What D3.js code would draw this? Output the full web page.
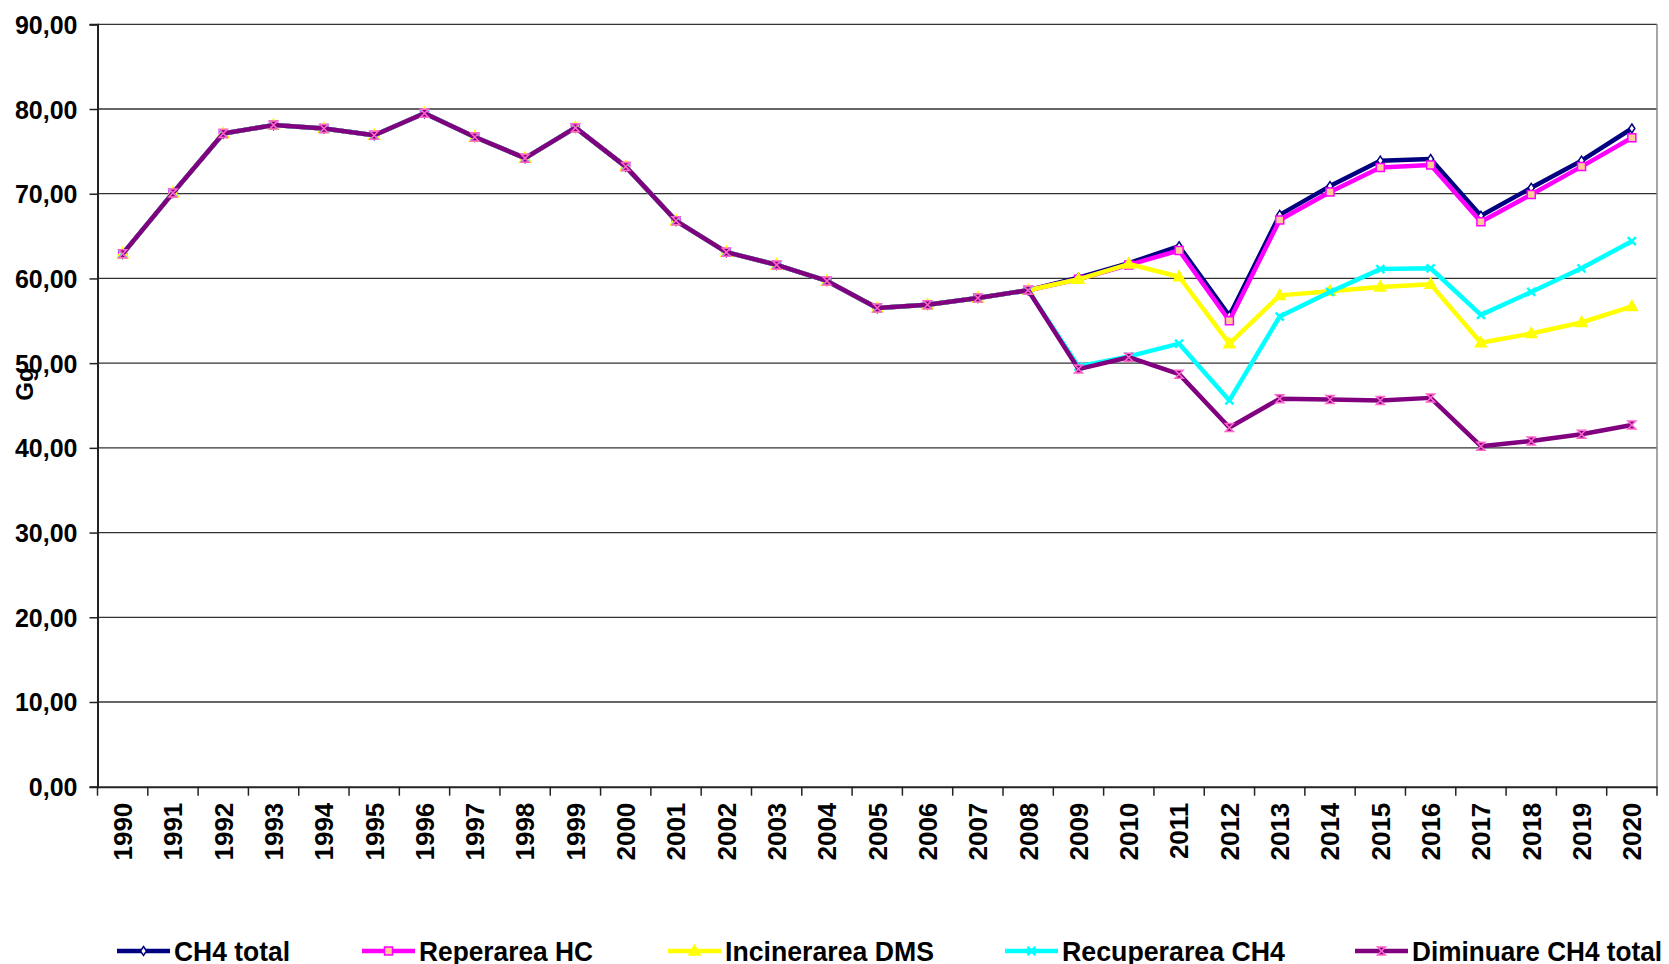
<!DOCTYPE html>
<html>
<head>
<meta charset="utf-8">
<script src="https://cdn.jsdelivr.net/npm/d3@7"></script>
<style>
  body { margin: 0; background: #fff; }
  text { font-family: Arial, "Liberation Sans", sans-serif; font-weight: bold; fill: #000; }
</style>
</head>
<body>
<div id="chart"></div>
<script>
// data
var years = d3.range(1990, 2021).map(String);
var common = [62.9, 70.1, 77.1, 78.1, 77.7, 76.9, 79.5, 76.7, 74.2, 77.8, 73.2, 66.8, 63.1, 61.6, 59.7, 56.5, 56.9, 57.7, 58.6];
var ch4Total    = common.concat([60.1, 61.8, 63.8, 55.6, 67.5, 70.9, 73.9, 74.1, 67.4, 70.7, 73.9, 77.7]);
var reperarea   = common.concat([59.9, 61.6, 63.3, 55.0, 66.9, 70.2, 73.1, 73.4, 66.7, 69.9, 73.2, 76.6]);
var incinerarea = common.concat([59.9, 61.7, 60.2, 52.3, 58.0, 58.5, 59.0, 59.3, 52.4, 53.5, 54.8, 56.7]);
var recuperarea = common.concat([49.6, 50.8, 52.3, 45.6, 55.5, 58.4, 61.1, 61.2, 55.7, 58.4, 61.2, 64.4]);
var diminuare   = common.concat([49.3, 50.7, 48.7, 42.4, 45.8, 45.7, 45.6, 45.9, 40.2, 40.8, 41.6, 42.7]);
var yTicks = d3.range(0, 91, 10);

var series = [
    {name: "CH4 total", values: ch4Total, color: "#000080", marker: "diamond"},
    {name: "Reperarea HC", values: reperarea, color: "#FF00FF", marker: "square"},
    {name: "Incinerarea DMS", values: incinerarea, color: "#FFFF00", marker: "triangle"},
    {name: "Recuperarea CH4", values: recuperarea, color: "#00FFFF", marker: "x"},
    {name: "Diminuare CH4 total", values: diminuare, color: "#800080", marker: "star"}
];

var W = 1669, H = 964;
var margin = {top: 24.3, left: 97.5, right: 12, bottom: 177.3};
var width = W - margin.left - margin.right,
    height = H - margin.top - margin.bottom;

var svg = d3.select("#chart").append("svg")
    .attr("width", W).attr("height", H);

var g = svg.append("g")
    .attr("transform", "translate(" + margin.left + "," + margin.top + ")");

var x = d3.scaleBand().domain(years).range([0, width]);
var y = d3.scaleLinear().domain([0, 90]).range([height, 0]);

// gridlines
g.selectAll(".grid").data(yTicks.filter(d => d > 0)).enter()
    .append("line")
    .attr("x1", 0).attr("x2", width)
    .attr("y1", d => y(d)).attr("y2", d => y(d))
    .attr("stroke", "#333").attr("stroke-width", 1.3);

// right border
g.append("line").attr("x1", width).attr("x2", width).attr("y1", 0).attr("y2", height)
    .attr("stroke", "#888").attr("stroke-width", 1.5);

// y axis
var yAxis = g.append("g")
    .call(d3.axisLeft(y).tickValues(yTicks).tickSize(8).tickPadding(6)
        .tickFormat(d => d3.format(".2f")(d).replace(".", ",")));
yAxis.select(".domain").attr("stroke", "#222").attr("stroke-width", 2);
yAxis.selectAll(".tick line").attr("stroke", "#222").attr("stroke-width", 1.5);
yAxis.selectAll(".tick text").style("font-size", "25px").attr("dy", "0.36em").attr("x", -20);

// x axis
var xAxis = g.append("g").attr("transform", "translate(0," + height + ")")
    .call(d3.axisBottom(x).tickSize(0));
xAxis.select(".domain").attr("stroke", "#222").attr("stroke-width", 2);
xAxis.selectAll(".tick text")
    .style("font-size", "26px")
    .attr("text-anchor", "end")
    .attr("transform", "rotate(-90)")
    .attr("x", -16).attr("y", 0).attr("dy", "0.36em");
// ticks between categories
g.selectAll(".xtick").data(d3.range(years.length + 1)).enter()
    .append("line")
    .attr("x1", d => d * x.step()).attr("x2", d => d * x.step())
    .attr("y1", height).attr("y2", height + 9)
    .attr("stroke", "#222").attr("stroke-width", 1.5);

// y label
svg.append("text")
    .attr("transform", "translate(33,384) rotate(-90)")
    .attr("text-anchor", "middle")
    .style("font-size", "24px")
    .text("Gg");

function markerPath(type) {
    switch (type) {
        case "diamond": return "M0,-4.5L3,0L0,4.5L-3,0Z";
        case "square": return "M-4,-4H4V4H-4Z";
        case "triangle": return "M0,-6L5.5,4H-5.5Z";
        case "x": return "M-4,-4L4,4M4,-4L-4,4";
        case "star": return "M-4,-4H4L-4,4H4Z";
    }
}

function styleMarker(sel, s) {
    sel.attr("d", markerPath(s.marker))
        .attr("fill", s.marker === "square" ? "#FFCC99" : (s.marker === "diamond" ? "#fff" : s.color))
        .attr("stroke", s.marker === "star" ? "#FF66CC" : (s.marker === "square" ? "#FF00FF" : s.color))
        .attr("stroke-width", s.marker === "x" ? 2.5 : 1.5);
}

var line = d3.line()
    .x((d, i) => x(years[i]) + x.bandwidth() / 2)
    .y(d => y(d));

series.forEach(function(s) {
    var sg = g.append("g");
    sg.append("path").datum(s.values)
        .attr("d", line)
        .attr("fill", "none")
        .attr("stroke", s.color)
        .attr("stroke-width", 4.5)
        .attr("stroke-linejoin", "round");
    sg.selectAll(".m").data(s.values).enter()
        .append("path")
        .attr("transform", (d, i) => "translate(" + (x(years[i]) + x.bandwidth() / 2) + "," + y(d) + ")")
        .call(styleMarker, s);
});

// legend
var legendX = [117, 362, 668, 1005, 1355];
var legendW = [116, 174, 209, 223, 250];
var lg = svg.append("g");
series.forEach(function(s, i) {
    var item = lg.append("g").attr("transform", "translate(" + legendX[i] + ",951)");
    item.append("line").attr("x1", 0).attr("x2", 53).attr("y1", 0).attr("y2", 0)
        .attr("stroke", s.color).attr("stroke-width", 4.5);
    item.append("path").attr("transform", "translate(26.5,0)").call(styleMarker, s);
    item.append("text")
        .attr("x", 57).attr("y", 10)
        .style("font-size", "28px")
        .attr("textLength", legendW[i])
        .attr("lengthAdjust", "spacingAndGlyphs")
        .text(s.name);
});
</script>
</body>
</html>
